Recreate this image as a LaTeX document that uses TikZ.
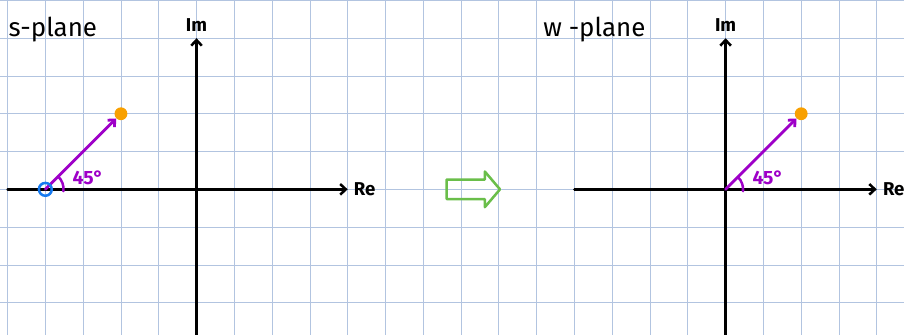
\documentclass[tikz,border=0pt]{standalone}
\usepackage{fontspec}
\setmainfont{Fira Sans}
\usetikzlibrary{arrows.meta,positioning}
\definecolor{gridblue}{RGB}{178,196,224}
\definecolor{vecpurple}{RGB}{158,0,200}
\definecolor{dotorange}{RGB}{248,160,0}
\definecolor{ringblue}{RGB}{22,122,240}
\definecolor{arrowgreen}{RGB}{106,190,74}
\tikzstyle{axis}=[
        line width = 1.9pt,
        -{Straight Barb[length=1.5mm,width=2.8mm]}
    ]
\tikzstyle{vec}=[
        vecpurple,
        line width = 2.1pt,
        -{Straight Barb[length=1.4mm,width=2.6mm]}
    ]
\tikzstyle{tip dot}=[
        circle,
        fill = dotorange,
        inner sep = 0pt,
        minimum size = 3.4mm
    ]
\tikzstyle{ring}=[
        circle,
        draw = ringblue,
        line width = 1.9pt,
        inner sep = 0pt,
        minimum size = 3.4mm
    ]
\tikzstyle{axlabel}=[
        inner sep = 0pt,
        font = \fontsize{14}{14}\selectfont\bfseries
    ]
\tikzstyle{title}=[
        inner sep = 0pt,
        anchor = base west,
        font = \fontsize{19.5}{19.5}\selectfont
    ]
\tikzstyle{deg}=[
        inner sep = 0pt,
        vecpurple,
        font = \fontsize{14.5}{14.5}\selectfont\bfseries
    ]

\begin{document}
\begin{tikzpicture}[line cap=round, line join=round]
        \useasboundingbox[fill=white] (-5.2,-3.85) rectangle (18.72,5.01);
        \draw[gridblue, line width=0.6pt] (-5.2,-3.85) grid (18.72,5.01);

        \coordinate (sre0) at (-5,0);
        \coordinate (sre1) at (4,0);
        \coordinate (sim0) at (0,-3.85);
        \coordinate (sim1) at (0,4);
        \coordinate (wre0) at (10,0);
        \coordinate (wre1) at (18,0);
        \coordinate (wim0) at (14,-3.85);
        \coordinate (wim1) at (14,4);

        \draw[axis] (sre0) -- (sre1);
        \draw[axis] (sim0) -- (sim1);
        \draw[axis] (wre0) -- (wre1);
        \draw[axis] (wim0) -- (wim1);

        \node[axlabel] (sim) [above=5pt of sim1] {Im};
        \node[axlabel] (sre) [right=4.5pt of sre1] {Re};
        \node[axlabel] (wim) [above=5pt of wim1] {Im};
        \node[axlabel] (wre) [right=4.5pt of wre1] {Re};

        \node[title] (stitle) at (-4.98,4.05) {s-plane};
        \node[title] (wtitle) at (9.17,4.05) {w -plane};

        \coordinate (s0) at (-4,0);
        \node[tip dot] (s1) at (-2,2) {};
        \draw[vec] (s0) -- (s1);
        \draw[vecpurple, line width=1.9pt] ([shift={(0.48,-0.05)}]s0) arc[start angle=-6, end angle=45, radius=0.48];
        \node[deg] (sdeg) at (-2.87,0.31) {45°};
        \node[ring] (sring) at (s0) {};

        \coordinate (w0) at (14,0);
        \node[tip dot] (w1) at (16,2) {};
        \draw[vec] (w0) -- (w1);
        \draw[vecpurple, line width=1.9pt] ([shift={(0.46,-0.05)}]w0) arc[start angle=-6, end angle=45, radius=0.46];
        \node[deg] (wdeg) at (15.12,0.31) {45°};

        \draw[arrowgreen, line width=1.9pt] (6.62,0.26) -- (7.63,0.26) -- (7.63,0.47) -- (8.03,0) -- (7.63,-0.47) -- (7.63,-0.26) -- (6.62,-0.26) -- cycle;
    \end{tikzpicture}
\end{document}
